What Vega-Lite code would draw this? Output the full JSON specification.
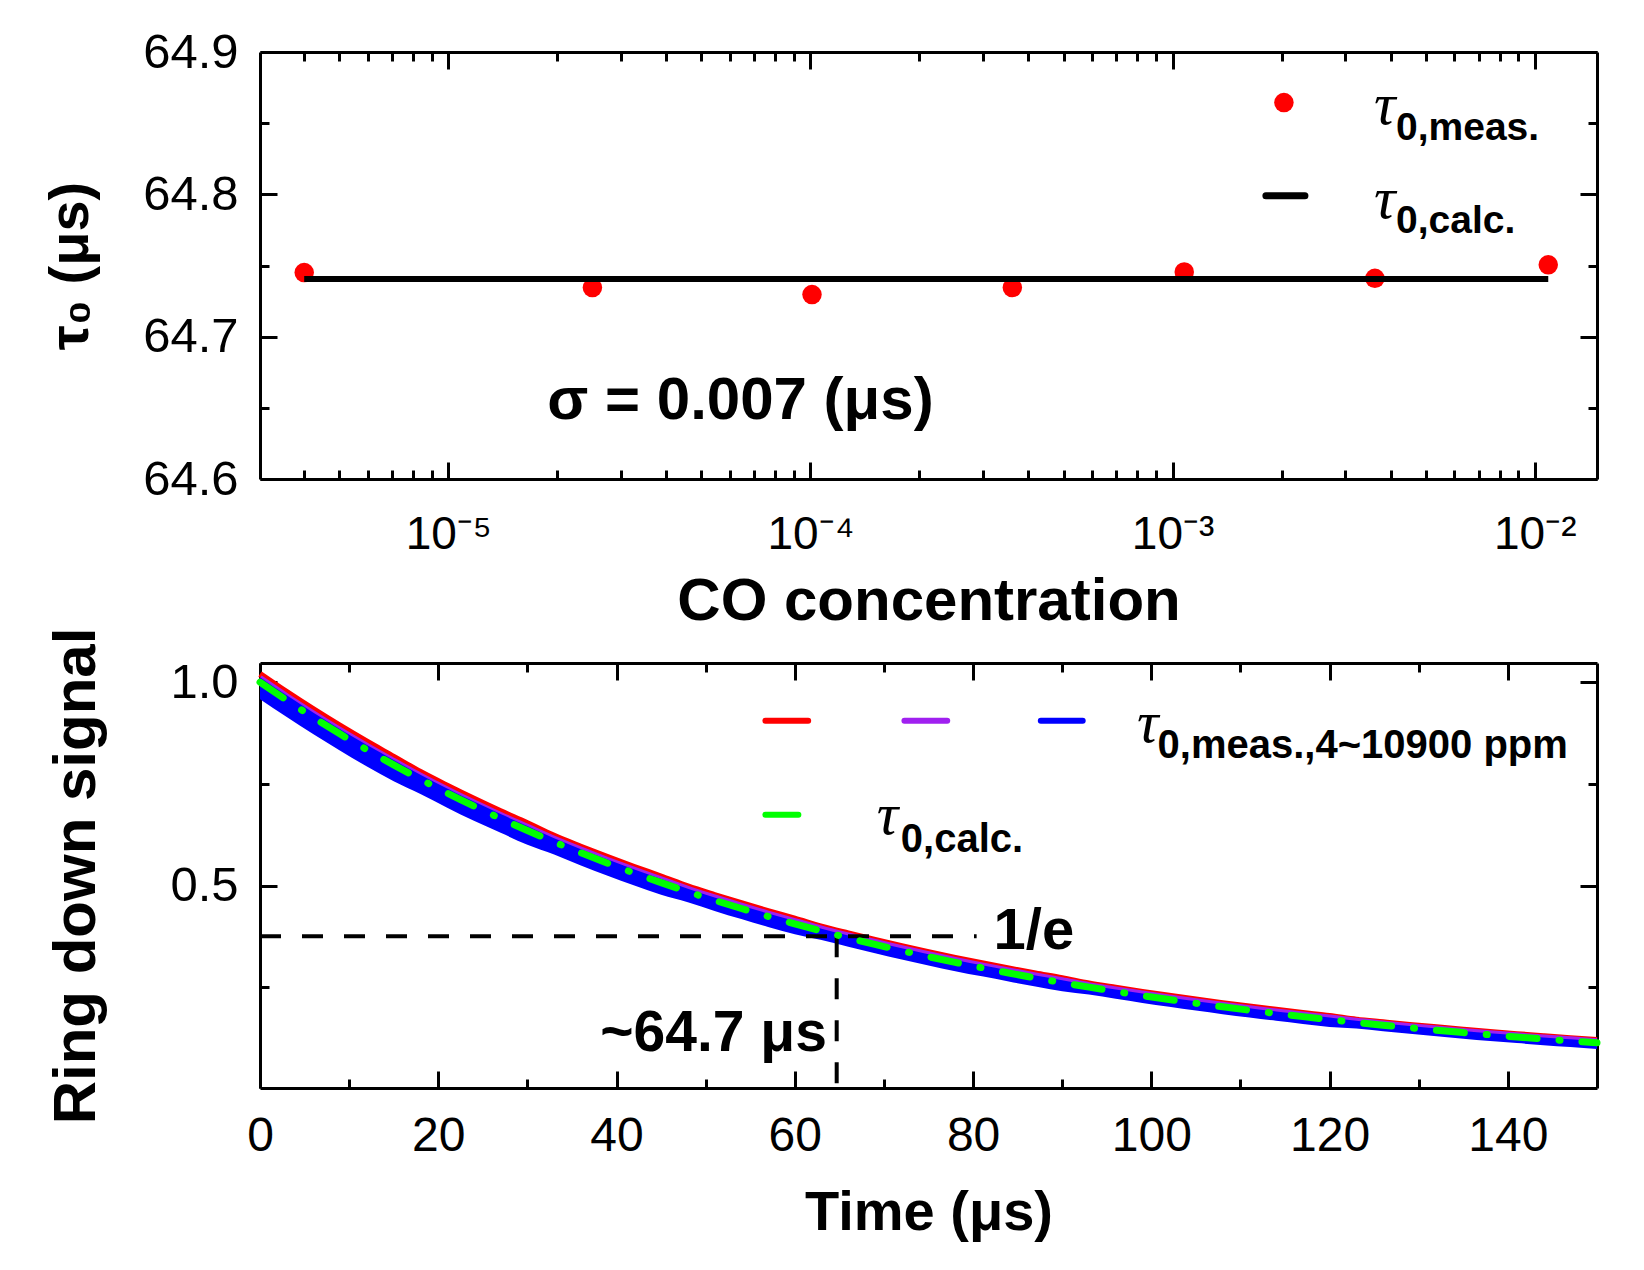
{
  "$schema": "https://vega.github.io/schema/vega-lite/v6.json",
  "background": "white",
  "padding": {"left": 42, "top": 28, "right": 10, "bottom": 10},
  "bounds": "flush",
  "spacing": 184,
  "config": {
    "font": "Liberation Sans",
    "view": {"stroke": null},
    "axis": {
      "domainColor": "black", "domainWidth": 3, "tickColor": "black", "tickWidth": 3,
      "labelColor": "black", "titleColor": "black", "labelFont": "Liberation Sans", "titleFont": "Liberation Sans",
      "grid": false, "labelFlush": false, "labelOverlap": false, "labelBound": false, "zindex": 1
    }
  },
  "datasets": {
    "meas": [
      {"conc": 4.0e-6, "tau": 64.745},
      {"conc": 2.5e-5, "tau": 64.7345},
      {"conc": 1.01e-4, "tau": 64.7296},
      {"conc": 3.61e-4, "tau": 64.7345},
      {"conc": 1.077e-3, "tau": 64.7455},
      {"conc": 3.62e-3, "tau": 64.741},
      {"conc": 1.09e-2, "tau": 64.7505}
    ],
    "calc": [
      {"conc": 4.0e-6, "tau": 64.7405},
      {"conc": 1.09e-2, "tau": 64.7405}
    ],
    "decay": [
      {"t": 0, "calc": 1.0, "red": 1.02, "violet": 1.01, "blueHi": 1.012, "blueLo": 0.958},
      {"t": 3, "calc": 0.9555, "red": 0.9755, "violet": 0.9655, "blueHi": 0.9675, "blueLo": 0.9145},
      {"t": 6, "calc": 0.913, "red": 0.933, "violet": 0.923, "blueHi": 0.925, "blueLo": 0.872},
      {"t": 9, "calc": 0.8724, "red": 0.8924, "violet": 0.8824, "blueHi": 0.8844, "blueLo": 0.8314},
      {"t": 12, "calc": 0.8337, "red": 0.8537, "violet": 0.8437, "blueHi": 0.8457, "blueLo": 0.7927},
      {"t": 15, "calc": 0.7967, "red": 0.8167, "violet": 0.8067, "blueHi": 0.8087, "blueLo": 0.7567},
      {"t": 18, "calc": 0.7614, "red": 0.7794, "violet": 0.7704, "blueHi": 0.7724, "blueLo": 0.7254},
      {"t": 21, "calc": 0.7277, "red": 0.7457, "violet": 0.7367, "blueHi": 0.7387, "blueLo": 0.6917},
      {"t": 24, "calc": 0.6955, "red": 0.7135, "violet": 0.7045, "blueHi": 0.7065, "blueLo": 0.6595},
      {"t": 27, "calc": 0.6648, "red": 0.6828, "violet": 0.6738, "blueHi": 0.6758, "blueLo": 0.6298},
      {"t": 30, "calc": 0.6355, "red": 0.6535, "violet": 0.6445, "blueHi": 0.6465, "blueLo": 0.6005},
      {"t": 33, "calc": 0.6074, "red": 0.6224, "violet": 0.6154, "blueHi": 0.6164, "blueLo": 0.5764},
      {"t": 36, "calc": 0.5807, "red": 0.5957, "violet": 0.5887, "blueHi": 0.5897, "blueLo": 0.5497},
      {"t": 39, "calc": 0.5552, "red": 0.5702, "violet": 0.5632, "blueHi": 0.5642, "blueLo": 0.5242},
      {"t": 42, "calc": 0.5308, "red": 0.5458, "violet": 0.5388, "blueHi": 0.5398, "blueLo": 0.5003},
      {"t": 45, "calc": 0.5075, "red": 0.5225, "violet": 0.5155, "blueHi": 0.5165, "blueLo": 0.4775},
      {"t": 48, "calc": 0.4853, "red": 0.4983, "violet": 0.4923, "blueHi": 0.4923, "blueLo": 0.4593},
      {"t": 51, "calc": 0.4641, "red": 0.4771, "violet": 0.4711, "blueHi": 0.4711, "blueLo": 0.4381},
      {"t": 54, "calc": 0.4439, "red": 0.4569, "violet": 0.4509, "blueHi": 0.4509, "blueLo": 0.4179},
      {"t": 57, "calc": 0.4246, "red": 0.4376, "violet": 0.4316, "blueHi": 0.4316, "blueLo": 0.3986},
      {"t": 60, "calc": 0.4061, "red": 0.4191, "violet": 0.4131, "blueHi": 0.4131, "blueLo": 0.3806},
      {"t": 63, "calc": 0.3885, "red": 0.3995, "violet": 0.3945, "blueHi": 0.3945, "blueLo": 0.3665},
      {"t": 66, "calc": 0.3717, "red": 0.3827, "violet": 0.3777, "blueHi": 0.3777, "blueLo": 0.3502},
      {"t": 69, "calc": 0.3556, "red": 0.3666, "violet": 0.3616, "blueHi": 0.3616, "blueLo": 0.3341},
      {"t": 72, "calc": 0.3403, "red": 0.3513, "violet": 0.3463, "blueHi": 0.3463, "blueLo": 0.3188},
      {"t": 75, "calc": 0.3256, "red": 0.3366, "violet": 0.3316, "blueHi": 0.3316, "blueLo": 0.3041},
      {"t": 78, "calc": 0.3116, "red": 0.3226, "violet": 0.3176, "blueHi": 0.3176, "blueLo": 0.2901},
      {"t": 81, "calc": 0.2983, "red": 0.3093, "violet": 0.3043, "blueHi": 0.3043, "blueLo": 0.2773},
      {"t": 84, "calc": 0.2856, "red": 0.2966, "violet": 0.2916, "blueHi": 0.2916, "blueLo": 0.2646},
      {"t": 87, "calc": 0.2734, "red": 0.2844, "violet": 0.2794, "blueHi": 0.2794, "blueLo": 0.2524},
      {"t": 90, "calc": 0.2618, "red": 0.2728, "violet": 0.2678, "blueHi": 0.2678, "blueLo": 0.2408},
      {"t": 93, "calc": 0.2507, "red": 0.2597, "violet": 0.2557, "blueHi": 0.2557, "blueLo": 0.2327},
      {"t": 96, "calc": 0.2401, "red": 0.2491, "violet": 0.2451, "blueHi": 0.2451, "blueLo": 0.2221},
      {"t": 99, "calc": 0.23, "red": 0.239, "violet": 0.235, "blueHi": 0.235, "blueLo": 0.212},
      {"t": 102, "calc": 0.2204, "red": 0.2294, "violet": 0.2254, "blueHi": 0.2254, "blueLo": 0.2024},
      {"t": 105, "calc": 0.2112, "red": 0.2202, "violet": 0.2162, "blueHi": 0.2162, "blueLo": 0.1932},
      {"t": 108, "calc": 0.2024, "red": 0.2114, "violet": 0.2074, "blueHi": 0.2074, "blueLo": 0.1844},
      {"t": 111, "calc": 0.194, "red": 0.203, "violet": 0.199, "blueHi": 0.199, "blueLo": 0.176},
      {"t": 114, "calc": 0.186, "red": 0.195, "violet": 0.191, "blueHi": 0.191, "blueLo": 0.168},
      {"t": 117, "calc": 0.1783, "red": 0.1873, "violet": 0.1833, "blueHi": 0.1833, "blueLo": 0.1603},
      {"t": 120, "calc": 0.171, "red": 0.18, "violet": 0.176, "blueHi": 0.176, "blueLo": 0.153},
      {"t": 123, "calc": 0.164, "red": 0.171, "violet": 0.168, "blueHi": 0.168, "blueLo": 0.149},
      {"t": 126, "calc": 0.1574, "red": 0.1644, "violet": 0.1614, "blueHi": 0.1614, "blueLo": 0.1424},
      {"t": 129, "calc": 0.151, "red": 0.158, "violet": 0.155, "blueHi": 0.155, "blueLo": 0.136},
      {"t": 132, "calc": 0.145, "red": 0.152, "violet": 0.149, "blueHi": 0.149, "blueLo": 0.13},
      {"t": 135, "calc": 0.1392, "red": 0.1462, "violet": 0.1432, "blueHi": 0.1432, "blueLo": 0.1242},
      {"t": 138, "calc": 0.1336, "red": 0.1406, "violet": 0.1376, "blueHi": 0.1376, "blueLo": 0.1186},
      {"t": 141, "calc": 0.1283, "red": 0.1353, "violet": 0.1323, "blueHi": 0.1323, "blueLo": 0.1133},
      {"t": 144, "calc": 0.1233, "red": 0.1303, "violet": 0.1273, "blueHi": 0.1273, "blueLo": 0.1083},
      {"t": 147, "calc": 0.1185, "red": 0.1255, "violet": 0.1225, "blueHi": 0.1225, "blueLo": 0.1035},
      {"t": 150, "calc": 0.1139, "red": 0.1209, "violet": 0.1179, "blueHi": 0.1179, "blueLo": 0.0989}
    ]
  },
  "vconcat": [
    {
      "width": 1337,
      "height": 427,
      "resolve": {"axis": {"x": "independent", "y": "independent"}},
      "layer": [
        {
          "data": {"name": "meas"},
          "mark": {"type": "circle", "color": "#FF0000", "opacity": 1, "size": 380},
          "encoding": {
            "x": {"field": "conc", "type": "quantitative", "scale": {"type": "log", "domain": [3.02e-6, 0.01486], "nice": false},
              "axis": {"orient": "bottom", "values": [1e-5, 1e-4, 1e-3, 1e-2], "tickSize": -17,
                "labelExpr": "datum.value < 3e-5 ? '10⁻⁵' : datum.value < 3e-4 ? '10⁻⁴' : datum.value < 3e-3 ? '10⁻³' : '10⁻²'",
                "labelFontSize": 46, "labelPadding": 50, "title": "CO concentration", "titleFontSize": 60, "titleFontWeight": "bold", "titlePadding": 15}},
            "y": {"field": "tau", "type": "quantitative", "scale": {"domain": [64.6, 64.9], "nice": false, "zero": false},
              "axis": {"orient": "left", "values": [64.6, 64.7, 64.8, 64.9], "format": ".1f", "tickSize": -17, "labelFontSize": 49, "labelPadding": 39,
                "title": "τ₀ (μs)", "titleFontSize": 56, "titleFontWeight": "bold", "titlePadding": 43}}
          }
        },
        {
          "data": {"name": "calc"},
          "mark": {"type": "line", "color": "#000000", "strokeWidth": 6},
          "encoding": {
            "x": {"field": "conc", "type": "quantitative", "scale": {"type": "log", "domain": [3.02e-6, 0.01486], "nice": false},
              "axis": {"orient": "bottom", "values": [4e-6, 5e-6, 6e-6, 7e-6, 8e-6, 9e-6, 2e-5, 3e-5, 4e-5, 5e-5, 6e-5, 7e-5, 8e-5, 9e-5, 2e-4, 3e-4, 4e-4, 5e-4, 6e-4, 7e-4, 8e-4, 9e-4, 2e-3, 3e-3, 4e-3, 5e-3, 6e-3, 7e-3, 8e-3, 9e-3], "tickSize": -9, "labels": false, "domain": false, "title": null}},
            "y": {"field": "tau", "type": "quantitative", "scale": {"domain": [64.6, 64.9], "nice": false, "zero": false},
              "axis": {"orient": "left", "values": [64.65, 64.75, 64.85], "tickSize": -9, "labels": false, "domain": false, "title": null}}
          }
        },
        {
          "data": {"values": [{}]},
          "mark": {"type": "circle", "color": "#FF0000", "opacity": 1, "size": 380},
          "encoding": {
            "x": {"datum": 0.00203, "type": "quantitative", "scale": {"type": "log", "domain": [3.02e-6, 0.01486], "nice": false},
              "axis": {"orient": "top", "values": [1e-5, 1e-4, 1e-3, 1e-2], "tickSize": -17, "labels": false, "title": null}},
            "y": {"datum": 64.8645, "type": "quantitative", "scale": {"domain": [64.6, 64.9], "nice": false, "zero": false},
              "axis": {"orient": "right", "values": [64.6, 64.7, 64.8, 64.9], "tickSize": -17, "labels": false, "title": null}}
          }
        },
        {
          "data": {"values": [{}]},
          "mark": {"type": "rule", "color": "#000000", "strokeWidth": 7, "strokeCap": "round"},
          "encoding": {
            "x": {"datum": 0.00181, "type": "quantitative", "scale": {"type": "log", "domain": [3.02e-6, 0.01486], "nice": false},
              "axis": {"orient": "top", "values": [4e-6, 5e-6, 6e-6, 7e-6, 8e-6, 9e-6, 2e-5, 3e-5, 4e-5, 5e-5, 6e-5, 7e-5, 8e-5, 9e-5, 2e-4, 3e-4, 4e-4, 5e-4, 6e-4, 7e-4, 8e-4, 9e-4, 2e-3, 3e-3, 4e-3, 5e-3, 6e-3, 7e-3, 8e-3, 9e-3], "tickSize": -9, "labels": false, "domain": false, "title": null}},
            "x2": {"datum": 0.00232},
            "y": {"datum": 64.799, "type": "quantitative", "scale": {"domain": [64.6, 64.9], "nice": false, "zero": false},
              "axis": {"orient": "right", "values": [64.65, 64.75, 64.85], "tickSize": -9, "labels": false, "domain": false, "title": null}}
          }
        },
        {
          "data": {"values": [{}]},
          "mark": {"type": "text", "text": "σ = 0.007 (μs)", "font": "Liberation Sans", "fontSize": 60, "fontWeight": "bold", "align": "center", "baseline": "alphabetic", "color": "black"},
          "encoding": {
            "x": {"datum": 6.41e-5, "type": "quantitative", "scale": {"type": "log", "domain": [3.02e-6, 0.01486], "nice": false}, "axis": null},
            "y": {"datum": 64.642, "type": "quantitative", "scale": {"domain": [64.6, 64.9], "nice": false, "zero": false}, "axis": null}
          }
        },
        {
          "data": {"values": [{"label": "τ", "conc": 0.0036, "tau": 64.8495}, {"label": "τ", "conc": 0.0036, "tau": 64.7837}]},
          "mark": {"type": "text", "font": "Liberation Serif", "fontSize": 60, "fontStyle": "italic", "align": "left", "baseline": "alphabetic", "color": "black"},
          "encoding": {
            "text": {"field": "label"},
            "x": {"field": "conc", "type": "quantitative", "scale": {"type": "log", "domain": [3.02e-6, 0.01486], "nice": false}, "axis": null},
            "y": {"field": "tau", "type": "quantitative", "scale": {"domain": [64.6, 64.9], "nice": false, "zero": false}, "axis": null}
          }
        },
        {
          "data": {"values": [{"label": "0,meas.", "conc": 0.00414, "tau": 64.8383}, {"label": "0,calc.", "conc": 0.00414, "tau": 64.7725}]},
          "mark": {"type": "text", "font": "Liberation Sans", "fontSize": 39, "fontWeight": "bold", "align": "left", "baseline": "alphabetic", "color": "black"},
          "encoding": {
            "text": {"field": "label"},
            "x": {"field": "conc", "type": "quantitative", "scale": {"type": "log", "domain": [3.02e-6, 0.01486], "nice": false}, "axis": null},
            "y": {"field": "tau", "type": "quantitative", "scale": {"domain": [64.6, 64.9], "nice": false, "zero": false}, "axis": null}
          }
        }
      ]
    },
    {
      "width": 1337,
      "height": 425,
      "resolve": {"axis": {"x": "independent", "y": "independent"}},
      "layer": [
        {
          "data": {"name": "decay"},
          "mark": {"type": "line", "color": "#FF0000", "strokeWidth": 6, "interpolate": "monotone"},
          "encoding": {
            "x": {"field": "t", "type": "quantitative", "scale": {"domain": [0, 150], "nice": false},
              "axis": {"orient": "bottom", "values": [0, 20, 40, 60, 80, 100, 120, 140], "format": "d", "tickSize": -17, "labelFontSize": 48, "labelPadding": 41,
                "title": "Time (μs)", "titleFontSize": 56, "titleFontWeight": "bold", "titlePadding": 25}},
            "y": {"field": "red", "type": "quantitative", "scale": {"domain": [0.003, 1.047], "nice": false, "zero": false},
              "axis": {"orient": "left", "values": [0.5, 1.0], "format": ".1f", "tickSize": -17, "labelFontSize": 49, "labelPadding": 39,
                "title": "Ring down signal", "titleFontSize": 60, "titleFontWeight": "bold", "titlePadding": 62}}
          }
        },
        {
          "data": {"name": "decay"},
          "mark": {"type": "line", "color": "#A020F0", "strokeWidth": 6, "interpolate": "monotone"},
          "encoding": {
            "x": {"field": "t", "type": "quantitative", "scale": {"domain": [0, 150], "nice": false},
              "axis": {"orient": "bottom", "values": [10, 30, 50, 70, 90, 110, 130], "tickSize": -9, "labels": false, "domain": false, "title": null}},
            "y": {"field": "violet", "type": "quantitative", "scale": {"domain": [0.003, 1.047], "nice": false, "zero": false},
              "axis": {"orient": "left", "values": [0.25, 0.75], "tickSize": -9, "labels": false, "domain": false, "title": null}}
          }
        },
        {
          "data": {"name": "decay"},
          "mark": {"type": "area", "color": "#0000FF", "opacity": 1, "interpolate": "monotone"},
          "encoding": {
            "x": {"field": "t", "type": "quantitative", "scale": {"domain": [0, 150], "nice": false},
              "axis": {"orient": "top", "values": [0, 20, 40, 60, 80, 100, 120, 140], "tickSize": -17, "labels": false, "title": null}},
            "y": {"field": "blueHi", "type": "quantitative", "scale": {"domain": [0.003, 1.047], "nice": false, "zero": false},
              "axis": {"orient": "right", "values": [0.5, 1.0], "tickSize": -17, "labels": false, "title": null}},
            "y2": {"field": "blueLo"}
          }
        },
        {
          "data": {"values": [{}]},
          "mark": {"type": "rule", "color": "#000000", "strokeWidth": 4, "strokeDash": [21, 21]},
          "encoding": {
            "x": {"datum": 0, "type": "quantitative", "scale": {"domain": [0, 150], "nice": false},
              "axis": {"orient": "top", "values": [10, 30, 50, 70, 90, 110, 130], "tickSize": -9, "labels": false, "domain": false, "title": null}},
            "x2": {"datum": 80.4},
            "y": {"datum": 0.3755, "type": "quantitative", "scale": {"domain": [0.003, 1.047], "nice": false, "zero": false},
              "axis": {"orient": "right", "values": [0.25, 0.75], "tickSize": -9, "labels": false, "domain": false, "title": null}}
          }
        },
        {
          "data": {"values": [{}]},
          "mark": {"type": "rule", "color": "#000000", "strokeWidth": 4, "strokeDash": [21, 21]},
          "encoding": {
            "x": {"datum": 64.7, "type": "quantitative", "scale": {"domain": [0, 150], "nice": false}, "axis": null},
            "y": {"datum": 0.3755, "type": "quantitative", "scale": {"domain": [0.003, 1.047], "nice": false, "zero": false}, "axis": null},
            "y2": {"datum": 0.003}
          }
        },
        {
          "data": {"name": "decay"},
          "mark": {"type": "line", "color": "#00FF00", "strokeWidth": 7, "strokeDash": [28, 22, 1, 22], "strokeCap": "round", "interpolate": "monotone"},
          "encoding": {
            "x": {"field": "t", "type": "quantitative", "scale": {"domain": [0, 150], "nice": false}, "axis": null},
            "y": {"field": "calc", "type": "quantitative", "scale": {"domain": [0.003, 1.047], "nice": false, "zero": false}, "axis": null}
          }
        },
        {
          "data": {"values": [
            {"series": "red", "t1": 56.7, "t2": 61.5, "v": 0.905},
            {"series": "violet", "t1": 72.3, "t2": 77.1, "v": 0.905},
            {"series": "blue", "t1": 87.6, "t2": 92.3, "v": 0.905},
            {"series": "green", "t1": 56.7, "t2": 60.4, "v": 0.674}
          ]},
          "mark": {"type": "rule", "strokeWidth": 6, "strokeCap": "round"},
          "encoding": {
            "x": {"field": "t1", "type": "quantitative", "scale": {"domain": [0, 150], "nice": false}, "axis": null},
            "x2": {"field": "t2"},
            "y": {"field": "v", "type": "quantitative", "scale": {"domain": [0.003, 1.047], "nice": false, "zero": false}, "axis": null},
            "color": {"field": "series", "type": "nominal", "scale": {"domain": ["red", "violet", "blue", "green"], "range": ["#FF0000", "#A020F0", "#0000FF", "#00FF00"]}, "legend": null}
          }
        },
        {
          "data": {"values": [{"label": "τ", "t": 98.4, "v": 0.854}, {"label": "τ", "t": 69.2, "v": 0.626}]},
          "mark": {"type": "text", "font": "Liberation Serif", "fontSize": 60, "fontStyle": "italic", "align": "left", "baseline": "alphabetic", "color": "black"},
          "encoding": {
            "text": {"field": "label"},
            "x": {"field": "t", "type": "quantitative", "scale": {"domain": [0, 150], "nice": false}, "axis": null},
            "y": {"field": "v", "type": "quantitative", "scale": {"domain": [0.003, 1.047], "nice": false, "zero": false}, "axis": null}
          }
        },
        {
          "data": {"values": [{"label": "0,meas.,4~10900 ppm", "t": 100.7, "v": 0.813}, {"label": "0,calc.", "t": 71.9, "v": 0.582}]},
          "mark": {"type": "text", "font": "Liberation Sans", "fontSize": 40, "fontWeight": "bold", "align": "left", "baseline": "alphabetic", "color": "black"},
          "encoding": {
            "text": {"field": "label"},
            "x": {"field": "t", "type": "quantitative", "scale": {"domain": [0, 150], "nice": false}, "axis": null},
            "y": {"field": "v", "type": "quantitative", "scale": {"domain": [0.003, 1.047], "nice": false, "zero": false}, "axis": null}
          }
        },
        {
          "data": {"values": [{}]},
          "mark": {"type": "text", "text": "~64.7 μs", "font": "Liberation Sans", "fontSize": 57, "fontWeight": "bold", "align": "right", "baseline": "alphabetic", "color": "black"},
          "encoding": {
            "x": {"datum": 63.6, "type": "quantitative", "scale": {"domain": [0, 150], "nice": false}, "axis": null},
            "y": {"datum": 0.093, "type": "quantitative", "scale": {"domain": [0.003, 1.047], "nice": false, "zero": false}, "axis": null}
          }
        },
        {
          "data": {"values": [{}]},
          "mark": {"type": "text", "text": "1/e", "font": "Liberation Sans", "fontSize": 58, "fontWeight": "bold", "align": "left", "baseline": "alphabetic", "color": "black"},
          "encoding": {
            "x": {"datum": 82.3, "type": "quantitative", "scale": {"domain": [0, 150], "nice": false}, "axis": null},
            "y": {"datum": 0.344, "type": "quantitative", "scale": {"domain": [0.003, 1.047], "nice": false, "zero": false}, "axis": null}
          }
        }
      ]
    }
  ]
}
